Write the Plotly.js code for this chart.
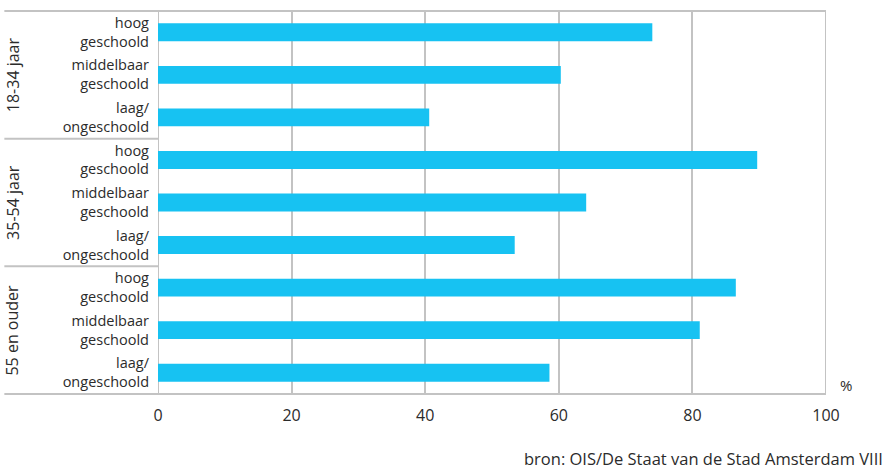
<!DOCTYPE html>
<html>
<head>
<meta charset="utf-8">
<script src="https://cdn.plot.ly/plotly-3.0.1.min.js"></script>
<style>html,body{margin:0;padding:0;background:#fff;}#chart{width:887px;height:469px;}</style>
</head>
<body>
<div id="chart"></div>
<script>
// Data
var groups = ['18-34 jaar', '35-54 jaar', '55 en ouder'];
var levels = ['hoog<br>geschoold', 'middelbaar<br>geschoold', 'laag/<br>ongeschoold'];
var values18_34 = [74, 60.3, 40.6];
var values35_54 = [89.7, 64.1, 53.4];
var values55plus = [86.5, 81.1, 58.6];
var xTicks = [0, 20, 40, 60, 80, 100];
var unitLabel = '%';
var sourceText = 'bron: OIS/De Staat van de Stad Amsterdam VIII';

var allValues = [values18_34, values35_54, values55plus];
var cats = [], vals = [], tickText = [];
groups.forEach(function (g, gi) {
  levels.forEach(function (l, li) {
    cats.push(g + '|' + li);
    vals.push(allValues[gi][li]);
    tickText.push(l);
  });
});

var barColor = '#17c2f2';
var lineColor = '#c3c3c3';
var textColor = '#2b2b2b';
var font = '"Open Sans", Lato, sans-serif';

var trace = {
  type: 'bar',
  orientation: 'h',
  x: vals,
  y: cats,
  marker: { color: barColor, line: { width: 0 } },
  width: 0.42,
  hoverinfo: 'x'
};

var shapes = [];
for (var i = 0; i <= groups.length; i++) {
  var yv = i * levels.length - 0.5;
  shapes.push({
    type: 'line', xref: 'paper', yref: 'y',
    x0: -0.23, x1: i === 0 || i === groups.length ? 1 : 0,
    y0: yv, y1: yv,
    line: { color: lineColor, width: 2 }, layer: 'below'
  });
}
shapes.push({ type: 'line', xref: 'x', yref: 'paper', x0: 0, x1: 0, y0: 0, y1: 1, line: { color: lineColor, width: 2 }, layer: 'below' });
shapes.push({ type: 'line', xref: 'x', yref: 'paper', x0: 100, x1: 100, y0: 0, y1: 1, line: { color: lineColor, width: 2 }, layer: 'below' });

var annotations = groups.map(function (g, gi) {
  return {
    text: g, xref: 'paper', yref: 'y',
    x: -0.218, y: gi * levels.length + 1,
    textangle: -90, showarrow: false,
    xanchor: 'center', yanchor: 'middle',
    font: { family: font, size: 16, color: textColor }
  };
});
annotations.push({
  text: unitLabel, xref: 'paper', yref: 'paper', x: 1.018, y: -0.005,
  xanchor: 'left', yanchor: 'bottom', showarrow: false,
  font: { family: font, size: 15, color: textColor }
});
annotations.push({
  text: sourceText, xref: 'paper', yref: 'paper', x: 1.089, y: -0.164,
  xanchor: 'right', yanchor: 'middle', showarrow: false,
  font: { family: font, size: 16.5, color: textColor }
});

var layout = {
  width: 887, height: 469,
  margin: { l: 158, r: 61, t: 10, b: 74 },
  paper_bgcolor: '#ffffff', plot_bgcolor: '#ffffff',
  showlegend: false,
  bargap: 0.58,
  xaxis: {
    range: [0, 100], tickvals: xTicks, ticktext: xTicks.map(String),
    showgrid: true, gridcolor: lineColor, gridwidth: 2,
    zeroline: false, showline: false, ticks: '',
    tickfont: { family: font, size: 16, color: textColor },
    ticklabelstandoff: 9, fixedrange: true
  },
  yaxis: {
    type: 'category', categoryorder: 'array', categoryarray: cats,
    tickvals: cats, ticktext: tickText,
    autorange: 'reversed', showgrid: false, zeroline: false, showline: false,
    ticks: '', ticklabelstandoff: 8,
    tickfont: { family: font, size: 14.5, color: textColor },
    fixedrange: true
  },
  shapes: shapes,
  annotations: annotations
};

Plotly.newPlot('chart', [trace], layout, { displayModeBar: false, staticPlot: true });
</script>
</body>
</html>
